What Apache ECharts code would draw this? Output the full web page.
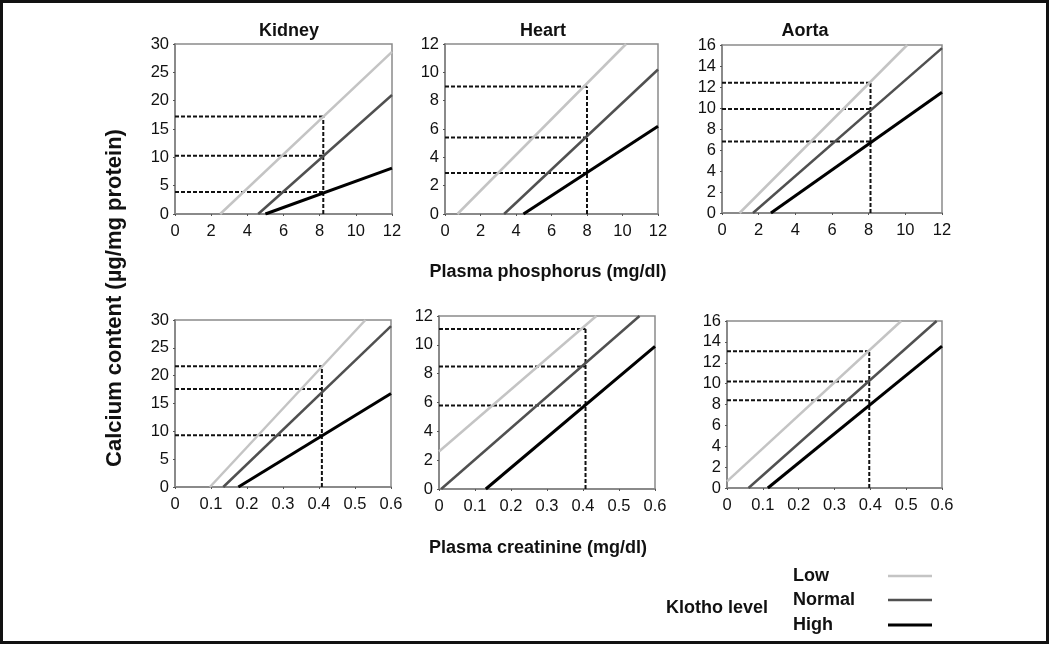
<!DOCTYPE html>
<html>
<head>
<meta charset="utf-8">
<script src="https://cdn.jsdelivr.net/npm/echarts@6/dist/echarts.min.js"></script>
<style>
html,body{margin:0;padding:0;background:#fff;}
#c{width:1050px;height:645px;}
</style>
</head>
<body>
<div id="c"></div>
<script>
// ---------- DATA ----------
const organs = ['Kidney', 'Heart', 'Aorta'];
const yMax = [30, 12, 16];
const yStep = [5, 2, 2];
const phosTicks = [0, 12, 2];
const creaTicks = [0, 0.6, 0.1];

// line endpoints [[x1,y1],[x2,y2]] per organ (phosphorus row)
const phosLow    = [[[2.5, 0], [12, 28.6]], [[0.7, 0], [10.2, 12]], [[0.96, 0], [10.1, 16]]];
const phosNormal = [[[4.6, 0], [12, 21.0]], [[3.33, 0], [12, 10.2]], [[1.69, 0], [12, 15.7]]];
const phosHigh   = [[[5.0, 0], [12, 8.1]], [[4.42, 0], [12, 6.2]], [[2.67, 0], [12, 11.5]]];
const phosRefX = [8.2, 8.0, 8.1];
const phosRefY = [[17.2, 10.3, 3.9], [9.0, 5.4, 2.9], [12.4, 9.9, 6.8]];

// creatinine row
const creaLow    = [[[0.097, 0], [0.529, 30]], [[0, 2.6], [0.437, 12]], [[0, 0.64], [0.486, 16]]];
const creaNormal = [[[0.134, 0], [0.6, 28.9]], [[0.006, 0], [0.557, 12]], [[0.06, 0], [0.585, 16]]];
const creaHigh   = [[[0.176, 0], [0.6, 16.8]], [[0.13, 0], [0.6, 9.9]], [[0.114, 0], [0.6, 13.6]]];
const creaRefX = [0.408, 0.407, 0.397];
const creaRefY = [[21.7, 17.6, 9.3], [11.1, 8.5, 5.8], [13.1, 10.2, 8.4]];

const levels = ['Low', 'Normal', 'High'];
const levelColors = ['#c4c4c4', '#505050', '#000000'];
const levelWidths = [2.5, 2.5, 3];

// ---------- LAYOUT ----------
const grids = [
  {left: 175, top: 44, width: 217, height: 170},
  {left: 445, top: 44, width: 213, height: 170},
  {left: 722, top: 45, width: 220, height: 168},
  {left: 175, top: 320, width: 216, height: 167},
  {left: 439, top: 316, width: 216, height: 173},
  {left: 727, top: 321, width: 215, height: 167}
];

const FONT = 'Liberation Sans, Arial, sans-serif';
const axisGray = '#8a8a8a';

const option = {
  animation: false,
  backgroundColor: '#fff',
  textStyle: {fontFamily: FONT},
  grid: grids.map(g => Object.assign({show: true, borderColor: axisGray, borderWidth: 1.5, backgroundColor: 'transparent'}, g)),
  xAxis: [],
  yAxis: [],
  series: [],
  title: []
};

function fmt(v) {
  const r = Math.round(v * 10) / 10;
  return r === 0 ? '0' : String(r);
}

for (let i = 0; i < 6; i++) {
  const o = i % 3;
  const row = i < 3 ? 0 : 1;
  const tk = row === 0 ? phosTicks : creaTicks;
  option.xAxis.push({
    type: 'value', gridIndex: i, min: tk[0], max: tk[1], interval: tk[2],
    axisLine: {show: true, lineStyle: {color: axisGray, width: 2}},
    axisTick: {show: true, length: 2, lineStyle: {color: '#555', width: 1}},
    splitLine: {show: false},
    axisLabel: {color: '#111', fontSize: 16.5, fontFamily: FONT, margin: 9, formatter: fmt}
  });
  option.yAxis.push({
    type: 'value', gridIndex: i, min: 0, max: yMax[o], interval: yStep[o],
    axisLine: {show: true, lineStyle: {color: axisGray, width: 2}},
    axisTick: {show: true, length: 2, lineStyle: {color: '#555', width: 1}},
    splitLine: {show: false},
    axisLabel: {color: '#111', fontSize: 16.5, fontFamily: FONT, margin: 6}
  });

  const sets = row === 0 ? [phosLow, phosNormal, phosHigh] : [creaLow, creaNormal, creaHigh];
  const refX = row === 0 ? phosRefX[o] : creaRefX[o];
  const refY = row === 0 ? phosRefY[o] : creaRefY[o];

  // dashed reference lines
  const ymaxRef = Math.max.apply(null, refY);
  const dashData = [[0, refY[0]], [refX, refY[0]], null, [0, refY[1]], [refX, refY[1]], null,
                    [0, refY[2]], [refX, refY[2]], null, [refX, 0], [refX, ymaxRef]];
  option.series.push({
    type: 'line', xAxisIndex: i, yAxisIndex: i, data: dashData.map(p => p === null ? '-' : p),
    connectNulls: false, showSymbol: false, symbol: 'none', silent: true,
    lineStyle: {color: '#111', width: 2, type: [4, 2]}, z: 2
  });

  for (let l = 0; l < 3; l++) {
    option.series.push({
      name: levels[l], type: 'line', xAxisIndex: i, yAxisIndex: i,
      data: sets[l][o], showSymbol: false, symbol: 'none', silent: true,
      lineStyle: {color: levelColors[l], width: levelWidths[l]}, z: 3 + l
    });
  }
}

// titles
const titleX = [284, 538, 800];
organs.forEach((t, k) => {
  option.title.push({
    text: t, left: titleX[k], top: 17, textAlign: 'center',
    textStyle: {fontSize: 18, fontWeight: 'bold', color: '#111', fontFamily: FONT}
  });
});

option.graphic = [
  {type: 'rect', shape: {x: 1.5, y: 1.5, width: 1046, height: 641}, style: {fill: 'none', stroke: '#111', lineWidth: 3}, silent: true},
  {type: 'text', x: 548, y: 272, style: {text: 'Plasma phosphorus (mg/dl)', font: 'bold 18px ' + FONT, fill: '#111', textAlign: 'center', textVerticalAlign: 'middle'}},
  {type: 'text', x: 538, y: 548, style: {text: 'Plasma creatinine (mg/dl)', font: 'bold 18px ' + FONT, fill: '#111', textAlign: 'center', textVerticalAlign: 'middle'}},
  {type: 'text', x: 115, y: 298, rotation: Math.PI / 2, style: {text: 'Calcium content (µg/mg protein)', font: 'bold 22px ' + FONT, fill: '#111', textAlign: 'center', textVerticalAlign: 'middle'}},
  {type: 'text', x: 717, y: 608, style: {text: 'Klotho level', font: 'bold 18px ' + FONT, fill: '#111', textAlign: 'center', textVerticalAlign: 'middle'}}
];
const legY = [576, 600, 625];
levels.forEach((lv, k) => {
  option.graphic.push({type: 'text', x: 793, y: legY[k], style: {text: lv, font: 'bold 18px ' + FONT, fill: '#111', textAlign: 'left', textVerticalAlign: 'middle'}});
  option.graphic.push({type: 'line', shape: {x1: 888, y1: legY[k], x2: 932, y2: legY[k]}, style: {stroke: levelColors[k], lineWidth: levelWidths[k]}});
});

const chart = echarts.init(document.getElementById('c'), null, {renderer: 'canvas'});
chart.setOption(option);
</script>
</body>
</html>
